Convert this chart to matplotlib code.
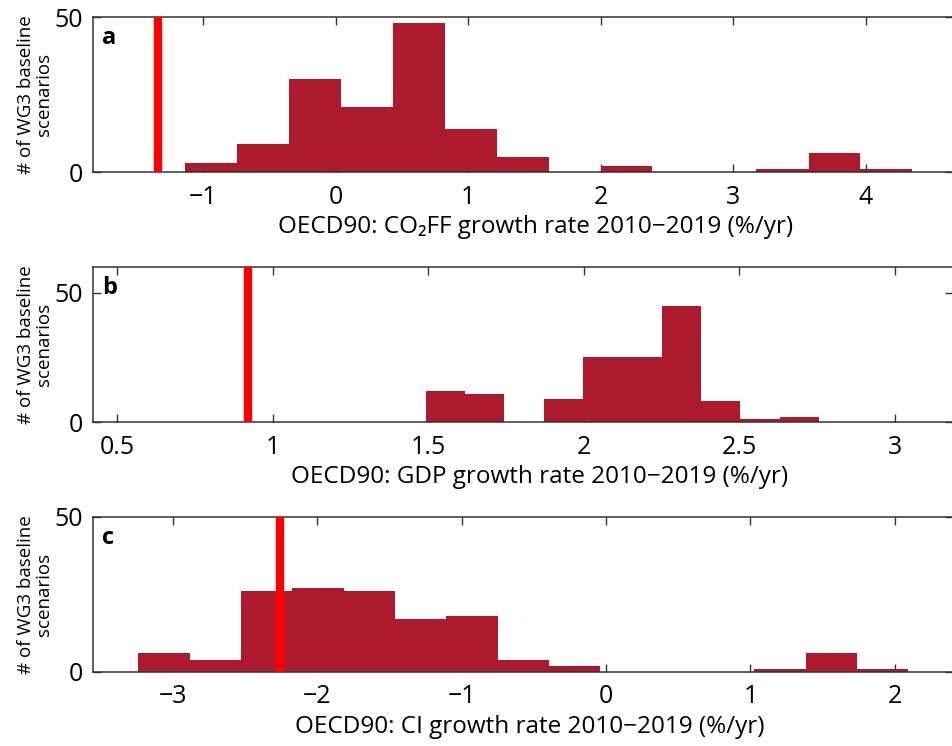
import numpy as np
import matplotlib
matplotlib.use("Agg")
import matplotlib.pyplot as plt

plt.rcParams['font.family'] = ['Open Sans', 'DejaVu Sans']

BAR_COLOR = '#AE1A2D'
OBS_COLOR = '#FF0000'

# panel a: CO2 fossil fuel growth rate
co2_edges = [-1.141, -0.749, -0.356, 0.036, 0.429, 0.821, 1.213, 1.606, 1.998, 2.390, 2.783, 3.175, 3.568, 3.960, 4.352]
co2_counts = [3, 9, 30, 21, 48, 14, 5, 0, 2, 0, 0, 1, 6, 1]
co2_obs = -1.34

# panel b: GDP growth rate
gdp_edges = [1.492, 1.618, 1.745, 1.871, 1.998, 2.124, 2.251, 2.377, 2.504, 2.630, 2.757]
gdp_counts = [12, 11, 0, 9, 25, 25, 45, 8, 1, 2]
gdp_obs = 0.92

# panel c: carbon intensity growth rate
ci_edges = [-3.240, -2.884, -2.529, -2.173, -1.818, -1.462, -1.107, -0.751, -0.396, -0.040,
            0.316, 0.671, 1.027, 1.382, 1.738, 2.093]
ci_counts = [6, 4, 26, 27, 26, 17, 18, 4, 2, 0, 0, 0, 1, 6, 1]
ci_obs = -2.26

panels = [
    dict(edges=co2_edges, counts=co2_counts, obs=co2_obs, xlim=(-1.833, 4.655), ylim=(0, 50),
         xticks=[-1, 0, 1, 2, 3, 4], xticklabels=['\u22121', '0', '1', '2', '3', '4'],
         letter='a', xlabel='OECD90: CO\u2082FF growth rate 2010\u22122019 (%/yr)', lx=0.515),
    dict(edges=gdp_edges, counts=gdp_counts, obs=gdp_obs, xlim=(0.422, 3.186), ylim=(0, 60),
         xticks=[0.5, 1, 1.5, 2, 2.5, 3], xticklabels=['0.5', '1', '1.5', '2', '2.5', '3'],
         letter='b', xlabel='OECD90: GDP growth rate 2010\u22122019 (%/yr)', lx=0.519),
    dict(edges=ci_edges, counts=ci_counts, obs=ci_obs, xlim=(-3.555, 2.400), ylim=(0, 50),
         xticks=[-3, -2, -1, 0, 1, 2], xticklabels=['\u22123', '\u22122', '\u22121', '0', '1', '2'],
         letter='c', xlabel='OECD90: CI growth rate 2010\u22122019 (%/yr)', lx=0.508),
]

fig = plt.figure(figsize=(9.52, 7.46), dpi=100)
bottoms = [0.7694, 0.4343, 0.0992]
height = 0.2078
left = 0.0977

for p, b in zip(panels, bottoms):
    ax = fig.add_axes([left, b, 1.0006 - left, height])
    edges = np.array(p['edges'])
    ax.bar(edges[:-1], p['counts'], width=np.diff(edges), align='edge',
           color=BAR_COLOR, linewidth=0, zorder=2)
    ax.axvline(p['obs'], color=OBS_COLOR, linewidth=6.0, zorder=3)
    ax.set_xlim(*p['xlim'])
    ax.set_ylim(*p['ylim'])
    ax.set_xticks(p['xticks'])
    ax.set_xticklabels(p['xticklabels'])
    ax.set_yticks([0, 50])
    ax.tick_params(direction='in', top=True, right=True, length=6, width=1.0,
                   labelsize=18, pad=9, color='#333333')
    ax.tick_params(axis='y', pad=7)
    for s in ax.spines.values():
        s.set_linewidth(1.1)
        s.set_color('#333333')
    ax.set_ylabel('# of WG3 baseline\nscenarios', fontsize=13.5, linespacing=1.0)
    ax.yaxis.set_label_coords(-0.046, 0.5)
    ax.set_xlabel(p['xlabel'], fontsize=17.5)
    ax.xaxis.set_label_coords(p['lx'], -0.28)
    ax.text(0.011, 0.865, p['letter'], transform=ax.transAxes, fontsize=17,
            fontweight='bold', va='center', ha='left', zorder=4)

fig.savefig('out.png', dpi=100)
